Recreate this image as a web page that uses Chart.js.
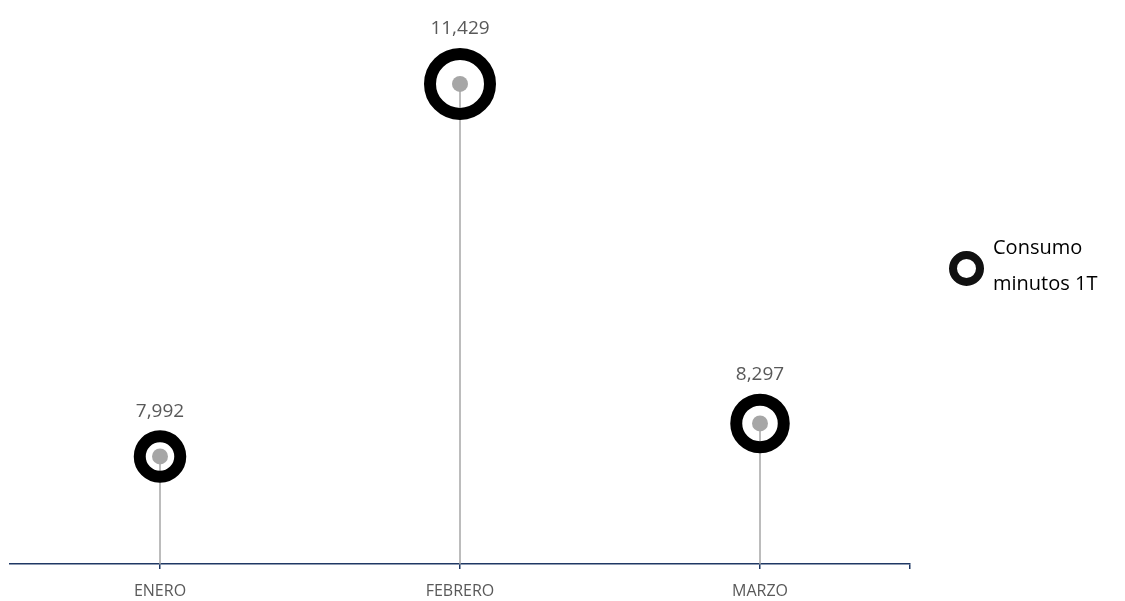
<!DOCTYPE html>
<html>
<head>
<meta charset="utf-8">
<script src="https://cdn.jsdelivr.net/npm/chart.js@4/dist/chart.umd.min.js"></script>
<style>
  html, body { margin: 0; padding: 0; background: #fff; }
  #wrap { position: relative; width: 1125px; height: 601px; }
  #legend { position: absolute; left: 949px; top: 229px; display: flex; align-items: center;
            font-family: "Open Sans", sans-serif; font-size: 20px; line-height: 36px; color: #000; }
  #legend .sw { width: 19px; height: 19px; border: 8px solid #111; border-radius: 50%; margin-right: 9px; margin-top: 6px; box-sizing: content-box; }
</style>
</head>
<body>
<div id="wrap">
  <canvas id="c" width="1125" height="601"></canvas>
  <div id="legend"><div class="sw"></div><div>Consumo<br>minutos 1T</div></div>
</div>
<script>
const categories = ["ENERO", "FEBRERO", "MARZO"];
const consumo = [7992, 11429, 8297];
const bubbleSizes = [20.25, 30, 23.75];
const seriesName = "Consumo minutos 1T";

const ringData = categories.map((c, i) => ({ x: i + 1, y: consumo[i], r: bubbleSizes[i] }));
const dotData = categories.map((c, i) => ({ x: i + 1, y: consumo[i] }));

const RING_W = 12;

const dropLines = {
  id: 'dropLines',
  beforeDatasetsDraw(chart) {
    const ctx = chart.ctx;
    const meta = chart.getDatasetMeta(1);
    const yBottom = chart.scales.y.getPixelForValue(chart.scales.y.min);
    ctx.save();
    ctx.strokeStyle = '#a6a6a6';
    ctx.lineWidth = 1.5;
    meta.data.forEach(pt => {
      ctx.beginPath();
      ctx.moveTo(pt.x, pt.y);
      ctx.lineTo(pt.x, yBottom);
      ctx.stroke();
    });
    ctx.restore();
  }
};

const valueLabels = {
  id: 'valueLabels',
  afterDatasetsDraw(chart) {
    const ctx = chart.ctx;
    const meta = chart.getDatasetMeta(0);
    ctx.save();
    ctx.fillStyle = '#595959';
    ctx.font = '19px "Open Sans", sans-serif';
    ctx.textAlign = 'center';
    ctx.textBaseline = 'middle';
    meta.data.forEach((pt, i) => {
      const outer = bubbleSizes[i] + RING_W / 2;
      ctx.fillText(consumo[i].toLocaleString('en-US'), pt.x, pt.y - outer - 19);
    });
    ctx.restore();
  }
};

new Chart(document.getElementById('c'), {
  data: {
    datasets: [
      {
        type: 'bubble',
        label: seriesName,
        data: ringData,
        backgroundColor: 'rgba(0,0,0,0)',
        borderColor: '#000000',
        borderWidth: RING_W,
        hoverBorderWidth: RING_W,
        clip: false,
        order: 1
      },
      {
        type: 'scatter',
        label: 'dot',
        data: dotData,
        pointRadius: 8,
        pointBackgroundColor: '#a6a6a6',
        pointBorderWidth: 0,
        clip: false,
        order: 0
      }
    ]
  },
  options: {
    responsive: false,
    animation: false,
    events: [],
    layout: { autoPadding: false, padding: { left: 10, right: 215, top: 22, bottom: 1 } },
    plugins: { legend: { display: false }, tooltip: { enabled: false } },
    scales: {
      x: {
        type: 'linear',
        min: 0.5,
        max: 3.5,
        afterBuildTicks: (scale) => { scale.ticks = [1, 2, 3, 3.5].map(v => ({ value: v })); },
        afterFit: (scale) => { scale.paddingLeft = 0; scale.paddingRight = 0; scale.height = 36; },
        ticks: {
          autoSkip: false,
          maxRotation: 0,
          padding: 13,
          color: '#595959',
          font: { family: '"Open Sans", sans-serif', size: 16 },
          callback: (v) => (Number.isInteger(v) ? categories[v - 1] : '')
        },
        grid: { drawOnChartArea: false, drawTicks: true, tickLength: 5, color: '#1f3864', lineWidth: 1.5 },
        border: { color: '#1f3864', width: 1.5 }
      },
      y: {
        display: false,
        min: 7000,
        max: 12000
      }
    }
  },
  plugins: [dropLines, valueLabels]
});
</script>
</body>
</html>
